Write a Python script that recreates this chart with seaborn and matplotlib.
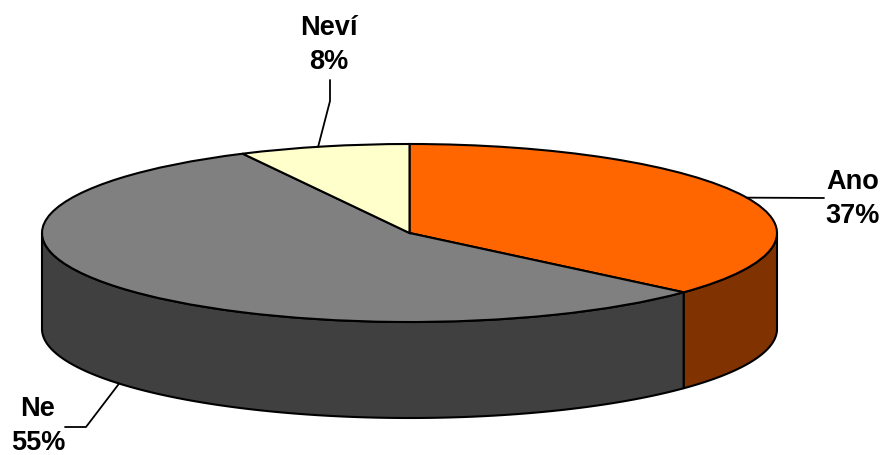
import numpy as np
from matplotlib import pyplot as plt
from matplotlib.lines import Line2D
import seaborn as sns

labels = ['Ano', 'Ne', 'Neví']
percents = [37, 55, 8]
shares = [36.6, 55.9, 7.5]
top_colors = ['#FF6600', '#808080', '#FFFFCC']
side_colors = ['#803300', '#404040']

W, H = 886, 456
CX, CY = 409.5, 234
RX, RY = 367.5, 89
DEPTH = 96 / RY

# label centres and leader elbows, in pixels from the top left
label_pos = [(853, 199), (38, 426), (329, 45)]
leader_elbows = [
    [(824, 199)],
    [(86, 428), (65, 428)],
    [(330, 102), (330, 81)],
]

sns.set_theme(style='white')
plt.rcParams['font.family'] = ['Liberation Sans', 'DejaVu Sans']


def to_fig(p):
    return p[0] / W, 1 - p[1] / H


def wall(ax, start, end, color):
    """Side of the disc between two angles given in degrees"""
    t = np.radians(np.linspace(start, end, 120))
    xs = np.concatenate([np.cos(t), np.cos(t[::-1])])
    ys = np.concatenate([np.sin(t), np.sin(t[::-1]) - DEPTH])
    ax.fill(xs, ys, facecolor=color, edgecolor='black', linewidth=1.5,
            joinstyle='round', zorder=0)


fig = plt.figure(figsize=(W / 100, H / 100), dpi=100)
ax = fig.add_axes([0, 0, 1, 1])

ax.pie(shares, startangle=90, counterclock=False, colors=top_colors,
       wedgeprops={'edgecolor': 'black', 'linewidth': 1.5})

# the pie is squashed into an ellipse by the axes limits
ax.set_aspect('auto')
ax.set_xlim(-CX / RX, (W - CX) / RX)
ax.set_ylim((CY - H) / RY, CY / RY)

edges = 90 - np.cumsum([0] + shares) * 3.6
wall(ax, 0, edges[1], side_colors[0])
wall(ax, edges[1], -180, side_colors[1])

# leaders leave the rim at the middle of the labelled share
label_edges = 90 - np.cumsum([0] + percents) * 3.6
mids = (label_edges[:-1] + label_edges[1:]) / 2

for i, label in enumerate(labels):
    a = np.radians(mids[i])
    drop = DEPTH if np.sin(a) < 0 else 0
    start = ax.transData.transform((np.cos(a), np.sin(a) - drop))
    start = fig.transFigure.inverted().transform(start)
    pts = [tuple(start)] + [to_fig(p) for p in leader_elbows[i]]
    fig.add_artist(Line2D([p[0] for p in pts], [p[1] for p in pts],
                          color='black', linewidth=1.3))
    x, y = to_fig(label_pos[i])
    fig.text(x, y, f'{label}\n{percents[i]}%', ha='center', va='center',
             fontsize=19.5, fontweight='bold', color='black', linespacing=1.36)

fig.savefig('out.png', dpi=100, facecolor='white')
